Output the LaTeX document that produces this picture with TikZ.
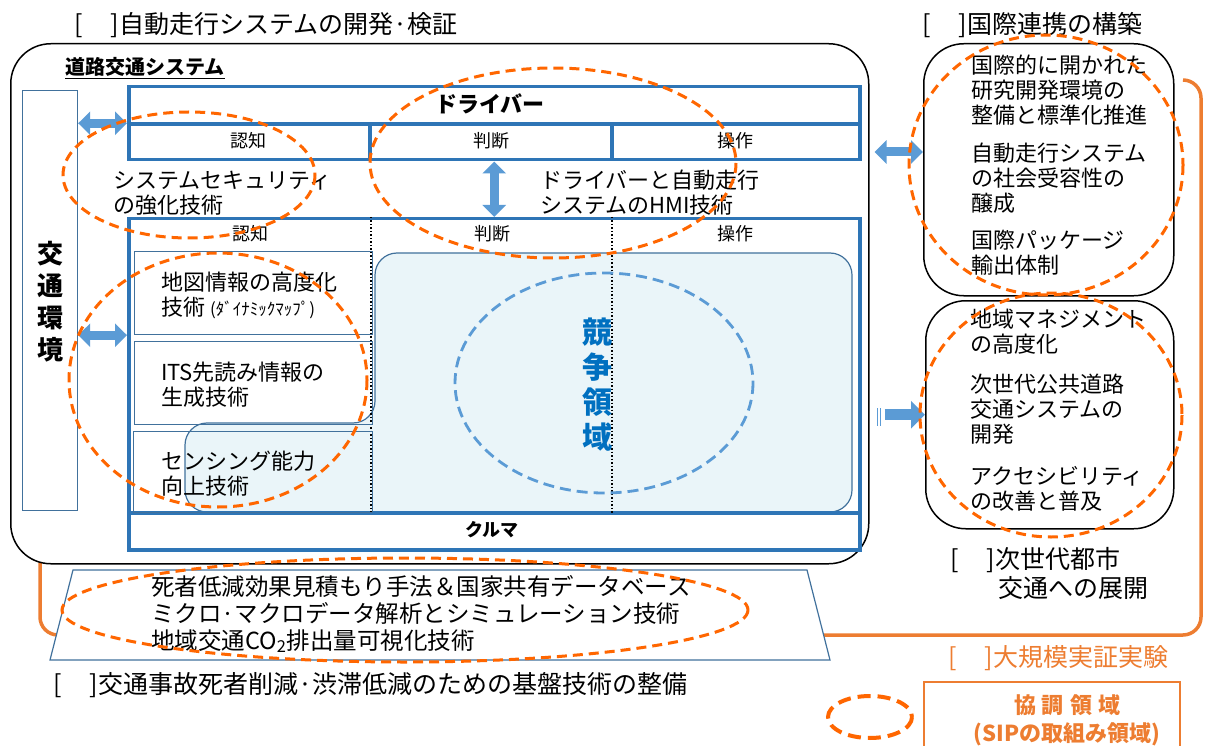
\documentclass[tikz,border=0pt]{standalone}
\usepackage{fontspec}
\setmainfont{Noto Sans CJK JP}
\usetikzlibrary{arrows.meta}
\definecolor{boxblue}{RGB}{46,117,182}
\definecolor{thinblue}{RGB}{65,113,156}
\definecolor{arrblue}{RGB}{91,155,213}
\definecolor{compfill}{RGB}{234,245,249}
\definecolor{compblue}{RGB}{0,112,192}
\definecolor{dashorange}{RGB}{255,102,0}
\definecolor{frameorange}{RGB}{237,125,49}
\tikzset{
 sz/.style 2 args={minimum width=#1pt,minimum height=#2pt},
 thickbox/.style={draw=boxblue,line width=3.5pt,inner sep=0pt,anchor=north west},
 thinbox/.style={draw=thinblue,line width=1.2pt,inner sep=0pt,anchor=north west},
 roundbox/.style={draw=black,line width=1.5pt,rounded corners=40pt,inner sep=0pt,anchor=north west},
 coop/.style={draw=dashorange,line width=3pt,dash pattern=on 10pt off 6pt},
 dblarrow/.style={arrblue,line width=9pt,{Triangle[length=12pt,width=23pt]}-{Triangle[length=12pt,width=23pt]}},
 onearrow/.style={arrblue,line width=11pt,-{Triangle[length=14pt,width=27pt]}},
 lbl/.style={font=\fontsize{22}{25}\selectfont,align=left,inner sep=0pt,anchor=west},
 hdr/.style={font=\fontsize{18}{20}\selectfont,inner sep=0pt},
 ttl/.style={font=\fontsize{25}{29}\selectfont,inner sep=0pt,anchor=west},
}
\begin{document}
\begin{tikzpicture}[x=1pt,y=-1pt]
\useasboundingbox(0,0)rectangle(1205,746);
% large scale test frame
\draw[frameorange,line width=3.5pt,rounded corners=18pt](40,563)--(40,635)--(1201,635)--(1201,80)--(1183,80);
%
\node[roundbox,sz={858}{520}](sys)at(10,43){};
\node[roundbox,sz={250}{252}](intl)at(923,43){};
\node[roundbox,sz={248}{228}](city)at(925,300){};
\node[thinbox,sz={55}{420}](env)at(22,90){};
% competitive area
\draw[thinblue,line width=1.2pt,fill=compfill,rounded corners=22pt](185,512)--(185,423)--(375,423)--(375,253)--(852,253)--(852,512)--cycle;
%
\node[thickbox,sz={731}{73}](drv)at(127,85){};
\draw[boxblue,line width=3.5pt](127,124)--(858,124);
\draw[boxblue,line width=3.5pt](370,124)--(370,158);
\draw[boxblue,line width=3.5pt](612,124)--(612,158);
\node[thickbox,sz={731}{331}](car)at(127,217){};
\draw[boxblue,line width=3.5pt](127,513)--(858,513);
\draw[line width=1.5pt,dotted](371,217)--(371,513);
\draw[line width=1.5pt,dotted](612,217)--(612,513);
\node[thinbox,sz={238}{83}](map)at(134,251){};
\node[thinbox,sz={238}{83}](its)at(134,341){};
\node[thinbox,sz={239}{81}](sens)at(133,431){};
%
\node[ttl](t1)at(74,25){[\hspace{28pt}]自動走行システムの開発·検証};
\node[ttl](t2)at(922,25){[\hspace{28pt}]国際連携の構築};
\node[inner sep=0pt,anchor=west,font=\fontsize{20}{22}\selectfont\bfseries](road)at(65,68){\underline{道路交通システム}};
\node[inner sep=0pt,font=\fontsize{22}{24}\selectfont\bfseries](drvl)at(490,104){ドライバー};
\node[hdr](d1)at(248,141){認知};
\node[hdr](d2)at(491,141){判断};
\node[hdr](d3)at(735,141){操作};
\node[hdr](c1)at(250,234){認知};
\node[hdr](c2)at(492,234){判断};
\node[hdr](c3)at(735,234){操作};
\node[hdr,font=\fontsize{18}{20}\selectfont\bfseries](carl)at(492,530){クルマ};
\node[inner sep=0pt,align=center,font=\fontsize{26}{32}\selectfont\bfseries](envl)at(50,302){交\\通\\環\\境};
\node[inner sep=0pt,align=center,text=compblue,font=\fontsize{30}{35}\selectfont\bfseries](comp)at(597,385){競\\争\\領\\域};
\node[lbl](sec)at(113,193){システムセキュリティ\\の強化技術};
\node[lbl](hmi)at(540,193){ドライバーと自動走行\\システムのHMI技術};
\node[lbl](mapl)at(161,295){地図情報の高度化\\技術 {\fontsize{17}{20}\selectfont(ﾀﾞｲﾅﾐｯｸﾏｯﾌﾟ)}};
\node[lbl](itsl)at(161,385){ITS先読み情報の\\生成技術};
\node[lbl](sensl)at(161,474){センシング能力\\向上技術};
\node[lbl](intll)at(971,165){国際的に開かれた\\研究開発環境の\\整備と標準化推進\\[13pt]自動走行システム\\の社会受容性の\\醸成\\[12pt]国際パッケージ\\輸出体制};
\node[lbl](cityl)at(970,410){地域マネジメント\\の高度化\\[15pt]次世代公共道路\\交通システムの\\開発\\[17pt]アクセシビリティ\\の改善と普及};
% connectors
\draw[dblarrow](env.east|-drv.west)--(drv.west);
\draw[dblarrow](env.east|-map.south)--(car.west|-map.south);
\draw[dblarrow](drv.south)--(car.north);
\coordinate(a1)at(0,152);
\draw[dblarrow,shorten <=5pt](sys.east|-a1)--(intl.west|-a1);
\foreach \x in {877,880}\draw[arrblue,line width=1pt](\x,408)--(\x,426);
\draw[onearrow,shorten <=15pt](sys.east|-city.west)--(city.west);
% dashed areas
\draw[arrblue,line width=2.8pt,dash pattern=on 11pt off 6pt](604,383)ellipse[x radius=149,y radius=110];
\draw[coop](189,175)ellipse[x radius=126,y radius=63];
\draw[coop](553,163)ellipse[x radius=183,y radius=95];
\draw[coop](218,380)ellipse[x radius=149,y radius=127];
\draw[coop](1046,165)ellipse[x radius=137,y radius=130];
\draw[coop](1051,415)ellipse[x radius=131,y radius=122];
% base technologies
\draw[thinblue,line width=1.2pt,fill=white](50,660)--(73,570)--(807,570)--(830,660)--cycle;
\node[lbl,font=\fontsize{23.5}{27}\selectfont](base)at(151,614){死者低減効果見積もり手法＆国家共有データベース\\ミクロ·マクロデータ解析とシミュレーション技術\\地域交通CO\textsubscript{2}排出量可視化技術};
\draw[coop](405,610)ellipse[x radius=343,y radius=52];
\node[ttl](t3)at(53,685){[\hspace{28pt}]交通事故死者削減·渋滞低減のための基盤技術の整備};
\node[ttl,align=left](t4)at(950,573){[\hspace{28pt}]次世代都市\\\hspace{48pt}交通への展開};
\node[ttl,text=frameorange](t5)at(948,658){[\hspace{28pt}]大規模実証実験};
% legend
\draw[frameorange,line width=1.2pt](924,746)--(924,682)--(1180,682)--(1180,746);
\node[inner sep=0pt,align=center,text=frameorange,font=\fontsize{22}{28}\selectfont\bfseries](leg)at(1067,720){協\hspace{6pt}調\hspace{6pt}領\hspace{6pt}域\\(SIPの取組み領域)};
\draw[coop,line width=4pt,dash pattern=on 13pt off 7pt](870,717)ellipse[x radius=42,y radius=21];
\end{tikzpicture}
\end{document}
